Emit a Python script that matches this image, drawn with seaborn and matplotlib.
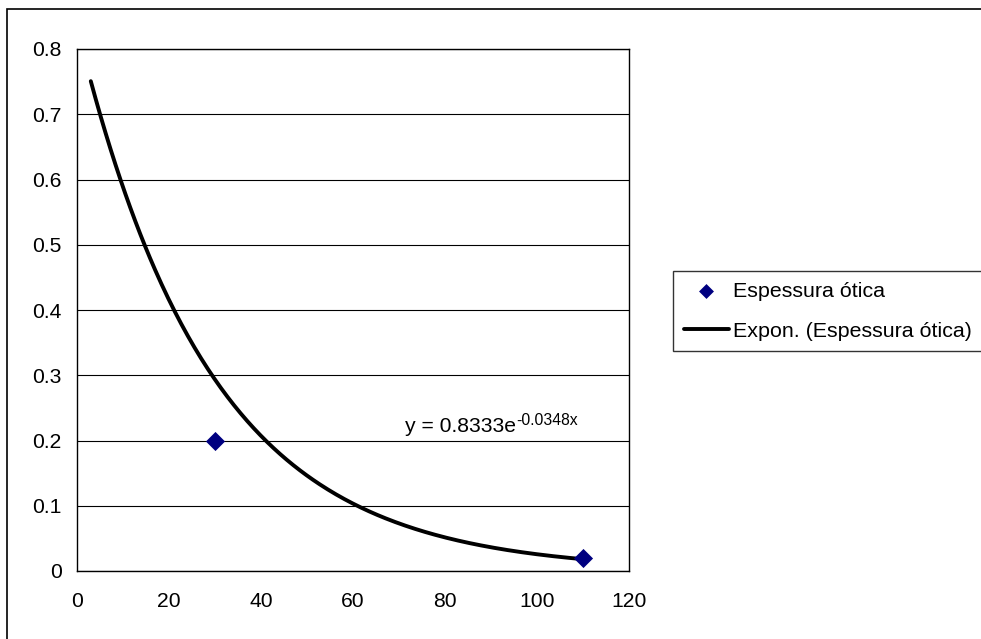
import numpy as np
import pandas as pd
import matplotlib
matplotlib.use("Agg")
import matplotlib.pyplot as plt
from matplotlib.patches import Rectangle
import seaborn as sns

# ---- data ----
x_points = [30, 110]
y_points = [0.2, 0.02]
series_name = "Espessura ótica"
trend_name = "Expon. (Espessura ótica)"
trend_a = 0.8333
trend_b = -0.0348
trend_x_start = 3
trend_x_end = 110
x_ticks = [0, 20, 40, 60, 80, 100, 120]
y_ticks = [0, 0.1, 0.2, 0.3, 0.4, 0.5, 0.6, 0.7, 0.8]
y_tick_labels = ["0", "0.1", "0.2", "0.3", "0.4", "0.5", "0.6", "0.7", "0.8"]
equation_main = "y = 0.8333e"
equation_exp = "-0.0348x"

sns.set_style("white")
plt.rcParams["font.family"] = ["Liberation Sans", "DejaVu Sans"]
plt.rcParams["axes.unicode_minus"] = False
plt.rcParams["text.color"] = "black"

FS = 15.2
W, H = 981, 639
fig = plt.figure(figsize=(W / 100, H / 100), dpi=100)
fig.patch.set_facecolor("white")
ax = fig.add_axes([77 / W, 1 - 571 / H, (629 - 77) / W, (571 - 49) / H])

# outer chart border
fig.patches.append(Rectangle((7 / W, -0.05), 1.0, 1 - 9 / H + 0.05,
                             transform=fig.transFigure, fill=False,
                             edgecolor="black", linewidth=1.2, zorder=0))

df_pts = pd.DataFrame({"x": x_points, "y": y_points})
tx = np.linspace(trend_x_start, trend_x_end, 300)
df_trend = pd.DataFrame({"x": tx, "y": trend_a * np.exp(trend_b * tx)})

for yt in y_ticks:
    ax.axhline(yt, color="black", linewidth=0.8, zorder=1)

sns.lineplot(data=df_trend, x="x", y="y", ax=ax, color="black", linewidth=2.8,
             label=trend_name, zorder=3)
sns.scatterplot(data=df_pts, x="x", y="y", ax=ax, marker="D", s=95,
                color="#000080", edgecolor="#000080", linewidth=0,
                label=series_name, zorder=4)

ax.set_xlim(0, 120)
ax.set_ylim(0, 0.8)
ax.set_xticks(x_ticks)
ax.set_yticks(y_ticks)
ax.set_yticklabels(y_tick_labels)
ax.set_xlabel("")
ax.set_ylabel("")
for s in ax.spines.values():
    s.set_color("black")
    s.set_linewidth(1.0)
ax.tick_params(axis="both", which="major", direction="out", length=4,
               width=1, color="black", labelsize=FS, labelcolor="black")
ax.tick_params(axis="x", pad=11)
ax.tick_params(axis="y", pad=7)

eq = ax.text(71.3, 0.207, equation_main, fontsize=FS, ha="left",
             va="bottom", color="black")
ax.annotate(equation_exp, xy=(1.0, 1.0), xycoords=eq, xytext=(0.5, 3),
            textcoords="offset points", fontsize=11.3, ha="left", va="top",
            color="black")

handles, labels = ax.get_legend_handles_labels()
if ax.get_legend() is not None:
    ax.get_legend().remove()
order = [labels.index(series_name), labels.index(trend_name)]
leg = fig.legend([handles[i] for i in order], [labels[i] for i in order],
                 loc="upper left", bbox_to_anchor=(673 / W, 1 - 271 / H),
                 frameon=True, fancybox=False, fontsize=15.4, handlelength=2.1,
                 handletextpad=0.22, borderpad=0.5, labelspacing=0.98,
                 borderaxespad=0, markerscale=0.78)
leg.get_frame().set_edgecolor("black")
leg.get_frame().set_linewidth(1.0)
for t in leg.get_texts():
    t.set_color("black")

fig.savefig("out.png", dpi=100)
